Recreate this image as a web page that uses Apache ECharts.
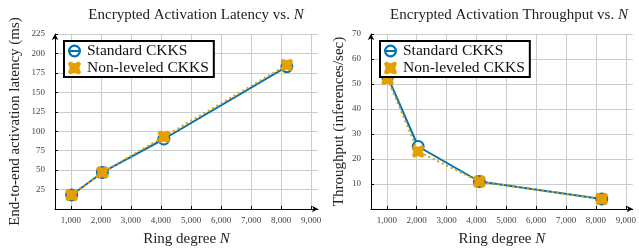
<!DOCTYPE html>
<html>
<head>
<meta charset="utf-8">
<script src="https://cdn.jsdelivr.net/npm/echarts@6/dist/echarts.min.js"></script>
<style>
  html, body { margin: 0; padding: 0; background: #fff; }
  #chart { width: 639px; height: 252px; }
</style>
</head>
<body>
<div id="chart"></div>
<script>
// 数据
var ringDegree = [1024, 2048, 4096, 8192];
var latencyStandard = [18, 47, 90, 183];
var latencyNonLeveled = [18, 47, 93, 185];
var throughputStandard = [53, 25, 11, 4];
var throughputNonLeveled = [52, 23, 11, 4];
var xTicks = [1000, 2000, 3000, 4000, 5000, 6000, 7000, 8000, 9000];

var blue = '#0072B2';
var orange = '#E69F00';
var serif = 'Liberation Serif';
var xMark = 'path://M0,0.3 L0.3,0 L1,0.25 L1.7,0 L2,0.3 L1.75,1 L2,1.7 L1.7,2 L1,1.75 L0.3,2 L0,1.7 L0.25,1 Z';
var ringMark = 'path://M0,1 A1,1 0 1,1 2,1 A1,1 0 1,1 0,1 Z M0.35,1 A0.65,0.65 0 1,0 1.65,1 A0.65,0.65 0 1,0 0.35,1 Z M0.3,0.85 L1.7,0.85 L1.7,1.15 L0.3,1.15 Z';

function pairs(xs, ys) {
    return xs.map(function (x, i) { return [x, ys[i]]; });
}

function xAxisFor(gridIndex) {
    return {
        type: 'value',
        gridIndex: gridIndex,
        min: 470,
        max: 9230,
        name: 'Ring degree {i|N}',
        nameLocation: 'middle',
        nameGap: 23,
        nameTextStyle: {
            fontFamily: serif, fontSize: 15, color: '#222',
            rich: { i: { fontFamily: serif, fontStyle: 'italic', fontSize: 15, color: '#222' } }
        },
        axisLine: { lineStyle: { color: '#000', width: 1 }, symbol: ['none', 'arrow'], symbolSize: [5, 6] },
        axisTick: { customValues: xTicks, length: 3, inside: true, lineStyle: { color: '#000' } },
        axisLabel: {
            customValues: xTicks,
            fontFamily: serif, fontSize: 9, color: '#444', margin: 7,
            formatter: function (v) { return v.toLocaleString('en-US'); }
        },
        splitLine: { show: true, lineStyle: { color: '#cccccc', width: 1 } }
    };
}

function yAxisFor(gridIndex, max, interval, name, gap) {
    return {
        type: 'value',
        gridIndex: gridIndex,
        min: 0,
        max: max,
        interval: interval,
        name: name,
        nameLocation: 'middle',
        nameGap: gap,
        nameTextStyle: { fontFamily: serif, fontSize: 15, color: '#222' },
        axisLine: { show: true, lineStyle: { color: '#000', width: 1 }, symbol: ['none', 'arrow'], symbolSize: [5, 6] },
        axisTick: { show: true, length: 3, inside: true, lineStyle: { color: '#000' } },
        axisLabel: { fontFamily: serif, fontSize: 9, color: '#444', margin: 10, showMinLabel: false },
        splitLine: { show: true, lineStyle: { color: '#cccccc', width: 1 } }
    };
}

function legendFor(left) {
    return {
        left: left,
        top: 41,
        orient: 'vertical',
        backgroundColor: '#fff',
        borderColor: '#000',
        borderWidth: 2,
        borderRadius: 0,
        padding: [2, 5, 1, 4],
        itemGap: 1,
        itemWidth: 13,
        itemHeight: 13,
        textStyle: { fontFamily: serif, fontSize: 15.5, color: '#111', padding: [0, 0, 0, 1] },
        data: [
            { name: 'Standard CKKS', icon: ringMark, itemStyle: { color: blue, borderWidth: 0 } },
            { name: 'Non-leveled CKKS', icon: xMark, itemStyle: { color: orange, borderWidth: 0 } }
        ]
    };
}

function standardSeries(idx, data) {
    return {
        name: 'Standard CKKS',
        type: 'line',
        xAxisIndex: idx,
        yAxisIndex: idx,
        z: 2,
        data: pairs(ringDegree, data),
        symbol: 'emptyCircle',
        symbolSize: 11,
        lineStyle: { color: blue, width: 2 },
        itemStyle: { color: blue, borderColor: blue, borderWidth: 2 },
        animation: false
    };
}

function nonLeveledSeries(idx, data) {
    return {
        name: 'Non-leveled CKKS',
        type: 'line',
        xAxisIndex: idx,
        yAxisIndex: idx,
        z: 3,
        data: pairs(ringDegree, data),
        symbol: xMark,
        symbolSize: 12,
        lineStyle: { color: orange, width: 2, type: [2, 3] },
        itemStyle: { color: orange, borderColor: orange, borderWidth: 0.5 },
        animation: false
    };
}

var myChart = echarts.init(document.getElementById('chart'));

var option = {
    animation: false,
    title: [
        {
            text: 'Encrypted Activation Latency vs. {i|N}',
            left: 191, top: 3, textAlign: 'center',
            textStyle: {
                fontFamily: serif, fontSize: 15, fontWeight: 'normal', color: '#222',
                rich: { i: { fontFamily: serif, fontStyle: 'italic', fontSize: 15, color: '#222' } }
            }
        },
        {
            text: 'Encrypted Activation Throughput vs. {i|N}',
            left: 504, top: 3, textAlign: 'center',
            textStyle: {
                fontFamily: serif, fontSize: 15, fontWeight: 'normal', color: '#222',
                rich: { i: { fontFamily: serif, fontStyle: 'italic', fontSize: 15, color: '#222' } }
            }
        }
    ],
    legend: [legendFor(64), legendFor(380)],
    grid: [
        { left: 55, top: 34, width: 263, height: 178 },
        { left: 371, top: 34, width: 265, height: 178 }
    ],
    xAxis: [xAxisFor(0), xAxisFor(1)],
    yAxis: [
        yAxisFor(0, 225, 25, 'End-to-end activation latency (ms)', 32),
        yAxisFor(1, 70, 10, 'Throughput (inferences/sec)', 24)
    ],
    series: [
        standardSeries(0, latencyStandard),
        nonLeveledSeries(0, latencyNonLeveled),
        standardSeries(1, throughputStandard),
        nonLeveledSeries(1, throughputNonLeveled)
    ]
};

myChart.setOption(option);
</script>
</body>
</html>
